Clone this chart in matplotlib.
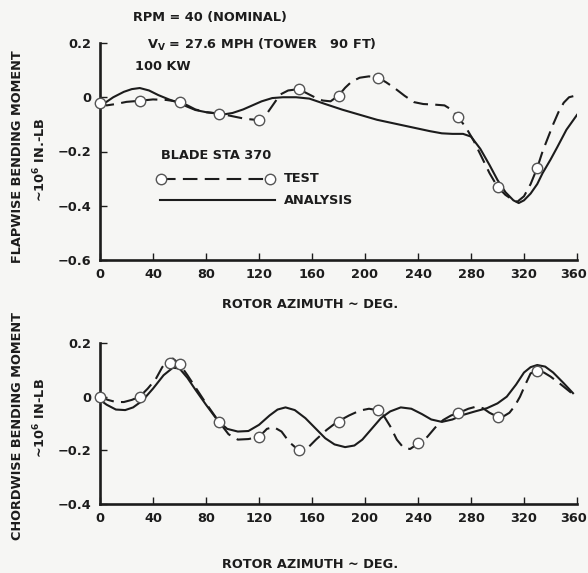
import matplotlib
matplotlib.use("Agg")
import matplotlib.pyplot as plt
from matplotlib.transforms import ScaledTranslation

plt.rcParams['font.family'] = ['DejaVu Sans']
plt.rcParams['font.weight'] = 'bold'
plt.rcParams['mathtext.fontset'] = 'custom'
plt.rcParams['mathtext.bf'] = 'DejaVu Sans:bold'
plt.rcParams['mathtext.rm'] = 'DejaVu Sans:bold'

INK = '#1c1c1c'
BG = '#f6f6f4'
FS = 9.3

# flapwise - test points (circles)
flap_test_az = [0, 30, 60, 90, 120, 150, 180, 210, 270, 300, 330]
flap_test_val = [-0.02, -0.013, -0.017, -0.06, -0.084, 0.03, 0.006, 0.072, -0.072, -0.33, -0.26]
# flapwise - test curve (dashed)
flap_tline_az = [0, 5, 12, 20, 30, 40, 50, 60, 66, 72, 80, 90, 100, 110, 120, 126, 131, 136,
                 142, 150, 156, 162, 168, 174, 180, 185, 190, 196, 203, 210, 216, 222, 230,
                 237, 244, 252, 260, 265, 270, 276, 282, 288, 294, 300, 306, 312, 315, 320,
                 325, 330, 334, 338, 342, 346, 350, 354, 358]
flap_tline_val = [-0.02, -0.03, -0.025, -0.017, -0.013, -0.008, -0.01, -0.017, -0.03, -0.045,
                  -0.055, -0.06, -0.07, -0.08, -0.084, -0.06, -0.025, 0.01, 0.025, 0.03, 0.015,
                  0.0, -0.012, -0.015, 0.006, 0.035, 0.058, 0.072, 0.077, 0.072, 0.055, 0.035,
                  0.005, -0.018, -0.025, -0.027, -0.03, -0.045, -0.072, -0.11, -0.16, -0.22,
                  -0.28, -0.33, -0.36, -0.38, -0.385, -0.365, -0.32, -0.26, -0.2, -0.15, -0.1,
                  -0.055, -0.02, 0.0, 0.005]
# flapwise - analysis (solid)
flap_an_az = [0, 4, 10, 18, 24, 30, 37, 44, 52, 59, 66, 72, 80, 88, 95, 100, 108, 115, 122,
              130, 138, 148, 158, 170, 183, 209, 249, 258, 266, 274, 280, 287, 294, 300, 306,
              312, 316, 320, 325, 330, 334, 340, 345, 352, 360]
flap_an_val = [-0.045, -0.02, 0.0, 0.02, 0.03, 0.034, 0.025, 0.008, -0.008, -0.02, -0.035,
               -0.047, -0.055, -0.06, -0.062, -0.058, -0.045, -0.03, -0.015, -0.003, 0.0, 0.0,
               -0.005, -0.025, -0.046, -0.083, -0.125, -0.133, -0.135, -0.135, -0.145, -0.19,
               -0.25, -0.305, -0.35, -0.38, -0.39, -0.38, -0.355, -0.32, -0.28, -0.23, -0.185,
               -0.12, -0.065]

# chordwise - test points (circles)
chord_test_az = [0, 30, 53, 60, 90, 120, 150, 180, 210, 240, 270, 300, 330]
chord_test_val = [0.0, 0.0, 0.126, 0.122, -0.095, -0.15, -0.2, -0.094, -0.05, -0.172, -0.06,
                  -0.075, 0.096]
# chordwise - test curve (dashed)
chord_tline_az = [0, 6, 12, 18, 24, 30, 36, 42, 47, 51, 55, 60, 66, 72, 80, 90, 97, 104, 112,
                  120, 126, 131, 137, 143, 150, 156, 163, 171, 179, 188, 196, 203, 209, 214,
                  219, 224, 229, 234, 241, 247, 253, 259, 265, 271, 278, 284, 289, 294, 300,
                  305, 309, 313, 317, 321, 325, 330, 335, 340, 348, 356]
chord_tline_val = [0.0, -0.012, -0.02, -0.02, -0.012, 0.0, 0.03, 0.065, 0.11, 0.135, 0.142,
                   0.122, 0.08, 0.035, -0.025, -0.095, -0.14, -0.16, -0.158, -0.15, -0.12,
                   -0.113, -0.13, -0.17, -0.2, -0.195, -0.16, -0.124, -0.094, -0.07, -0.052,
                   -0.045, -0.05, -0.07, -0.11, -0.16, -0.19, -0.195, -0.172, -0.15, -0.115,
                   -0.087, -0.07, -0.06, -0.045, -0.037, -0.043, -0.06, -0.075, -0.072, -0.06,
                   -0.035, 0.0, 0.045, 0.087, 0.096, 0.09, 0.075, 0.045, 0.013]
# chordwise - analysis (solid)
chord_an_az = [0, 5, 12, 19, 25, 32, 40, 48, 55, 60, 66, 72, 80, 89, 96, 104, 112, 120, 128,
               134, 140, 147, 155, 163, 170, 177, 185, 192, 198, 205, 212, 219, 227, 235, 243,
               250, 258, 266, 274, 283, 292, 300, 307, 314, 320, 325, 330, 336, 342, 350, 357]
chord_an_val = [-0.012, -0.03, -0.048, -0.05, -0.04, -0.015, 0.03, 0.08, 0.108, 0.105, 0.07,
                0.026, -0.03, -0.09, -0.12, -0.13, -0.128, -0.105, -0.07, -0.048, -0.04,
                -0.05, -0.08, -0.12, -0.155, -0.178, -0.188, -0.182, -0.16, -0.12, -0.08,
                -0.055, -0.04, -0.045, -0.065, -0.085, -0.094, -0.085, -0.068, -0.055, -0.043,
                -0.025, 0.0, 0.045, 0.09, 0.11, 0.118, 0.112, 0.09, 0.05, 0.013]

x_ticks = [0, 40, 80, 120, 160, 200, 240, 280, 320, 360]
flap_yticks = [0.2, 0, -0.2, -0.4, -0.6]
flap_ylabels = ['0.2', '0', '\u22120.2', '\u22120.4', '\u22120.6']
chord_yticks = [0.2, 0, -0.2, -0.4]
chord_ylabels = ['0.2', '0', '\u22120.2', '\u22120.4']

W, H = 588, 573
fig = plt.figure(figsize=(W / 100, H / 100), dpi=100, facecolor=BG)


def fx(px):
    return px / W


def fy(py):
    return 1 - py / H


def style(ax, yticks, ylabels, ymin, ymax):
    ax.set_facecolor(BG)
    ax.set_xlim(0, 360)
    ax.set_ylim(ymin, ymax)
    for s in ['top', 'right']:
        ax.spines[s].set_visible(False)
    for s in ['left', 'bottom']:
        ax.spines[s].set_linewidth(1.9)
        ax.spines[s].set_color(INK)
    ax.set_xticks(x_ticks)
    ax.set_xticklabels([str(t) for t in x_ticks])
    ax.set_yticks(yticks)
    ax.set_yticklabels(ylabels)
    ax.tick_params(direction='in', length=5, width=1.0, colors=INK, labelsize=FS, pad=6)
    for lab in ax.get_xticklabels() + ax.get_yticklabels():
        lab.set_fontweight('bold')
    # last label "360" sits at the figure edge, nudge it left a little
    last = ax.get_xticklabels()[-1]
    last.set_transform(last.get_transform() + ScaledTranslation(-0.03, 0, fig.dpi_scale_trans))


def draw(ax, tl_az, tl_val, t_az, t_val, an_az, an_val):
    ax.plot(an_az, an_val, color=INK, lw=1.5, solid_joinstyle='round', zorder=2)
    ax.plot(tl_az, tl_val, color=INK, lw=1.5, dashes=(7, 3.5), zorder=3)
    ax.plot(t_az, t_val, ls='none', marker='o', ms=7.5, mfc='white', mec='#555555', mew=1.0,
            zorder=4, clip_on=False)


ax1 = fig.add_axes([fx(100), fy(260), fx(577) - fx(100), fy(43) - fy(260)])
style(ax1, flap_yticks, flap_ylabels, -0.6, 0.2)
draw(ax1, flap_tline_az, flap_tline_val, flap_test_az, flap_test_val, flap_an_az, flap_an_val)

ax2 = fig.add_axes([fx(100), fy(504), fx(577) - fx(100), fy(343) - fy(504)])
style(ax2, chord_yticks, chord_ylabels, -0.4, 0.2)
draw(ax2, chord_tline_az, chord_tline_val, chord_test_az, chord_test_val, chord_an_az,
     chord_an_val)

# legend in top panel
ax1.text(46, -0.213, 'BLADE STA 370', fontsize=FS, fontweight='bold', color=INK, va='center')
ax1.plot([46, 128], [-0.30, -0.30], color=INK, lw=1.5, dashes=(7, 3.5))
ax1.plot([46, 128], [-0.30, -0.30], ls='none', marker='o', ms=7.5, mfc='white', mec='#555555',
         mew=1.0)
ax1.text(139, -0.30, 'TEST', fontsize=FS, fontweight='bold', color=INK, va='center')
ax1.plot([45, 132], [-0.38, -0.38], color=INK, lw=1.5)
ax1.text(139, -0.38, 'ANALYSIS', fontsize=FS, fontweight='bold', color=INK, va='center')

# header text
fig.text(fx(133), fy(18), 'RPM = 40 (NOMINAL)', fontsize=FS, fontweight='bold', color=INK,
         va='center')
fig.text(fx(147), fy(45), r'V$_{\mathbf{V}}$ = 27.6 MPH (TOWER   90 FT)', fontsize=FS,
         fontweight='bold', color=INK, va='center')
fig.text(fx(135), fy(66), '100 KW', fontsize=FS, fontweight='bold', color=INK, va='center')

# axis labels
fig.text(fx(310), fy(304), 'ROTOR AZIMUTH ~ DEG.', fontsize=FS, fontweight='bold', color=INK,
         ha='center', va='center')
fig.text(fx(310), fy(565), 'ROTOR AZIMUTH ~ DEG.', fontsize=FS, fontweight='bold', color=INK,
         ha='center', va='center')
fig.text(fx(18), fy(157), 'FLAPWISE BENDING MOMENT', fontsize=FS, fontweight='bold',
         color=INK, ha='center', va='center', rotation=90)
fig.text(fx(40), fy(160), r'~10$^{\mathbf{6}}$ IN.-LB', fontsize=FS, fontweight='bold',
         color=INK, ha='center', va='center', rotation=90)
fig.text(fx(18), fy(426), 'CHORDWISE BENDING MOMENT', fontsize=FS, fontweight='bold',
         color=INK, ha='center', va='center', rotation=90)
fig.text(fx(40), fy(418), r'~10$^{\mathbf{6}}$ IN-LB', fontsize=FS, fontweight='bold',
         color=INK, ha='center', va='center', rotation=90)

fig.savefig('out.png', dpi=100, facecolor=BG)
